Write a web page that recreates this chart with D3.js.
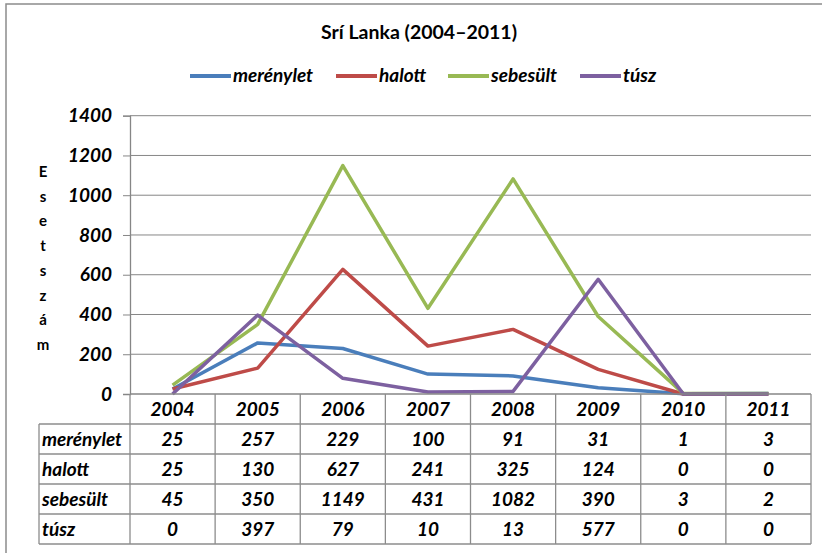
<!DOCTYPE html>
<html>
<head>
<meta charset="utf-8">
<script src="https://cdn.jsdelivr.net/npm/d3@7"></script>
<style>
  body { margin: 0; background: #fff; }
  svg { font-family: Lato, "Open Sans", sans-serif; }
</style>
</head>
<body>
<svg id="chart" width="822" height="553"></svg>
<script>
var years = ["2004", "2005", "2006", "2007", "2008", "2009", "2010", "2011"];
var merenylet = [25, 257, 229, 100, 91, 31, 1, 3];
var halott = [25, 130, 627, 241, 325, 124, 0, 0];
var sebesult = [45, 350, 1149, 431, 1082, 390, 3, 2];
var tusz = [0, 397, 79, 10, 13, 577, 0, 0];
var yTicks = [0, 200, 400, 600, 800, 1000, 1200, 1400];

var series = [
  {name: "merénylet", values: merenylet, color: "#4A7EBB"},
  {name: "halott", values: halott, color: "#BE4B48"},
  {name: "sebesült", values: sebesult, color: "#98B954"},
  {name: "túsz", values: tusz, color: "#7D60A0"}
];

var plot = {left: 130, right: 811, top: 115.7, bottom: 394};
var rowH = 30;
var tableLeft = 39;
var fontSize = "19px";

var svg = d3.select("#chart");

// chart area border
svg.append("rect")
  .attr("x", 6).attr("y", 4)
  .attr("width", 830).attr("height", 560)
  .attr("fill", "#fff")
  .attr("stroke", "#8c8c8c")
  .attr("stroke-width", 1.5);

// title
svg.append("text")
  .attr("x", 419).attr("y", 39)
  .attr("text-anchor", "middle")
  .style("font-size", "19.5px")
  .style("font-weight", "bold")
  .text("Srí Lanka (2004–2011)");

// legend
var legendX = [190, 336, 448, 580];
var legend = svg.append("g");
series.forEach(function(s, i) {
  legend.append("line")
    .attr("x1", legendX[i]).attr("x2", legendX[i] + 41)
    .attr("y1", 76).attr("y2", 76)
    .attr("stroke", s.color)
    .attr("stroke-width", 4);
  legend.append("text")
    .attr("x", legendX[i] + 43).attr("y", 82)
    .style("font-size", fontSize)
    .style("font-weight", "bold")
    .style("font-style", "italic")
    .text(s.name);
});

var x = d3.scaleBand()
  .domain(years)
  .range([plot.left, plot.right]);

var y = d3.scaleLinear()
  .domain([0, 1400])
  .range([plot.bottom, plot.top]);

// gridlines
svg.append("g")
  .selectAll("line")
  .data(yTicks.filter(function(d) { return d > 0; }))
  .enter()
  .append("line")
    .attr("x1", plot.left).attr("x2", plot.right)
    .attr("y1", function(d) { return y(d); })
    .attr("y2", function(d) { return y(d); })
    .attr("stroke", "#868686")
    .attr("stroke-width", 1);

// y axis
var yAxis = svg.append("g")
  .attr("transform", "translate(" + plot.left + ",0)")
  .call(d3.axisLeft(y).tickValues(yTicks).tickFormat(d3.format("d")).tickSize(7).tickPadding(11));
yAxis.select(".domain").attr("stroke", "#868686").attr("stroke-width", 1.3);
yAxis.selectAll(".tick line").attr("stroke", "#868686");
yAxis.selectAll(".tick text")
  .attr("fill", "#000")
  .style("font-family", "Lato, sans-serif")
  .style("font-size", fontSize)
  .style("font-weight", "bold")
  .style("font-style", "italic");

// y axis title, stacked letters
svg.append("g")
  .selectAll("text")
  .data("Esetszám".split(""))
  .enter()
  .append("text")
    .attr("x", 43)
    .attr("y", function(d, i) { return 177 + i * 24.7; })
    .attr("text-anchor", "middle")
    .style("font-size", "15px")
    .style("font-weight", "bold")
    .text(function(d) { return d; });

// lines
var line = d3.line()
  .x(function(d, i) { return x(years[i]) + x.bandwidth() / 2; })
  .y(function(d) { return y(d); });

svg.append("g")
  .selectAll("path")
  .data(series)
  .enter()
  .append("path")
    .attr("d", function(d) { return line(d.values); })
    .attr("fill", "none")
    .attr("stroke", function(d) { return d.color; })
    .attr("stroke-width", 3.5)
    .attr("stroke-linejoin", "round");

// data table
var table = svg.append("g");
var tableBottom = plot.bottom + rowH * (series.length + 1);
var gridColor = "#8c8c8c";

// horizontal rules
d3.range(1, series.length + 2).forEach(function(r) {
  table.append("line")
    .attr("x1", tableLeft).attr("x2", plot.right)
    .attr("y1", plot.bottom + r * rowH).attr("y2", plot.bottom + r * rowH)
    .attr("stroke", gridColor).attr("stroke-width", 1.3);
});
// header top line (x axis)
table.append("line")
  .attr("x1", plot.left).attr("x2", plot.right)
  .attr("y1", plot.bottom).attr("y2", plot.bottom)
  .attr("stroke", "#868686").attr("stroke-width", 1.3);
// vertical rules
years.forEach(function(yr) {
  table.append("line")
    .attr("x1", x(yr) + x.bandwidth()).attr("x2", x(yr) + x.bandwidth())
    .attr("y1", plot.bottom).attr("y2", tableBottom)
    .attr("stroke", gridColor).attr("stroke-width", 1.3);
});
table.append("line")
  .attr("x1", plot.left).attr("x2", plot.left)
  .attr("y1", plot.bottom).attr("y2", tableBottom)
  .attr("stroke", gridColor).attr("stroke-width", 1.3);
table.append("line")
  .attr("x1", tableLeft).attr("x2", tableLeft)
  .attr("y1", plot.bottom + rowH).attr("y2", tableBottom)
  .attr("stroke", gridColor).attr("stroke-width", 1.3);

var cellStyle = function(sel) {
  sel.style("font-size", fontSize)
    .style("font-weight", "bold")
    .style("font-style", "italic");
};

// year headers
table.selectAll("text.year")
  .data(years)
  .enter()
  .append("text")
    .attr("class", "year")
    .attr("x", function(d) { return x(d) + x.bandwidth() / 2; })
    .attr("y", plot.bottom + rowH / 2 + 7)
    .attr("text-anchor", "middle")
    .call(cellStyle)
    .text(function(d) { return d; });

series.forEach(function(s, r) {
  var cy = plot.bottom + (r + 1) * rowH + rowH / 2 + 7;
  table.append("text")
    .attr("x", tableLeft + 3).attr("y", cy)
    .call(cellStyle)
    .text(s.name);
  table.selectAll("text.v" + r)
    .data(s.values)
    .enter()
    .append("text")
      .attr("class", "v" + r)
      .attr("x", function(d, i) { return x(years[i]) + x.bandwidth() / 2; })
      .attr("y", cy)
      .attr("text-anchor", "middle")
      .call(cellStyle)
      .text(function(d) { return d; });
});
</script>
</body>
</html>
